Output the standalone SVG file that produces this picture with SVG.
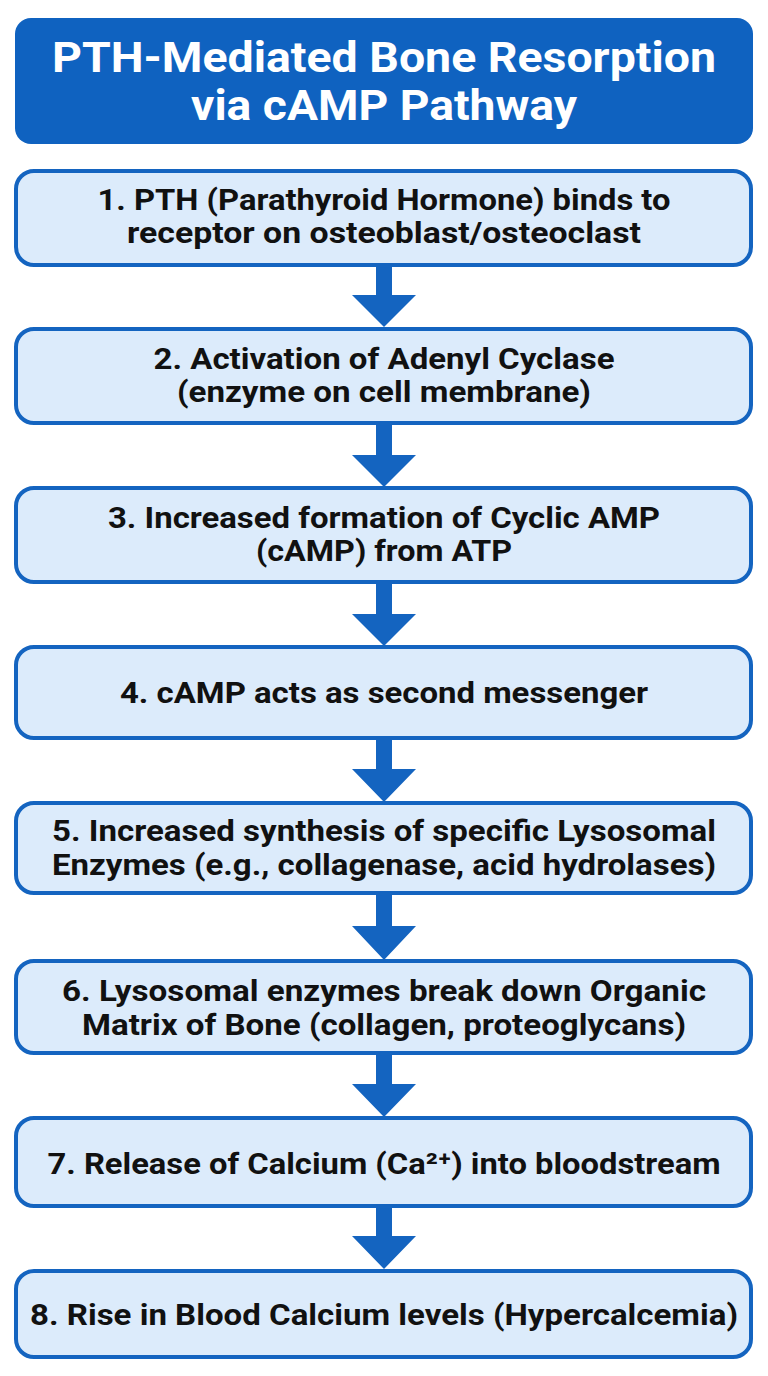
<svg xmlns="http://www.w3.org/2000/svg" width="768" height="1376" viewBox="0 0 768 1376">
<defs>
<style>
.box{fill:#dcebfb;stroke:#1464c0;stroke-width:4}
.t{font-family:Roboto,"Liberation Sans",sans-serif;font-weight:bold;font-size:30px;fill:#111;text-anchor:middle}
.h{font-family:Roboto,"Liberation Sans",sans-serif;font-weight:bold;font-size:43px;fill:#fff;text-anchor:middle}
.arr{fill:#1464c0}
</style>
</defs>
<rect width="768" height="1376" fill="#fff"/>
<g id="title">
<rect x="15" y="18" width="738" height="126" rx="16" fill="#0f62c0"/>
<text class="h" x="384" y="72" textLength="664" lengthAdjust="spacingAndGlyphs">PTH-Mediated Bone Resorption</text>
<text class="h" x="384" y="120" textLength="386" lengthAdjust="spacingAndGlyphs">via cAMP Pathway</text>
</g>
<g id="connectors">
<path class="arr" d="M376 265h16v30h24l-32 32l-32-32h24z"/>
<path class="arr" d="M376 423h16v32h24l-32 32l-32-32h24z"/>
<path class="arr" d="M376 582h16v32h24l-32 32l-32-32h24z"/>
<path class="arr" d="M376 738h16v31h24l-32 33l-32-33h24z"/>
<path class="arr" d="M376 893h16v33h24l-32 34l-32-34h24z"/>
<path class="arr" d="M376 1053h16v31h24l-32 33l-32-33h24z"/>
<path class="arr" d="M376 1206h16v30h24l-32 33l-32-33h24z"/>
</g>
<g id="step1">
<rect class="box" x="16" y="171" width="735" height="94" rx="18"/>
<text class="t" x="384" y="210" textLength="573" lengthAdjust="spacingAndGlyphs">1. PTH (Parathyroid Hormone) binds to</text>
<text class="t" x="384" y="243" textLength="514" lengthAdjust="spacingAndGlyphs">receptor on osteoblast/osteoclast</text>
</g>
<g id="step2">
<rect class="box" x="16" y="329" width="735" height="94" rx="18"/>
<text class="t" x="384" y="369" textLength="461" lengthAdjust="spacingAndGlyphs">2. Activation of Adenyl Cyclase</text>
<text class="t" x="384" y="402" textLength="414" lengthAdjust="spacingAndGlyphs">(enzyme on cell membrane)</text>
</g>
<g id="step3">
<rect class="box" x="16" y="488" width="735" height="94" rx="18"/>
<text class="t" x="384" y="528" textLength="552" lengthAdjust="spacingAndGlyphs">3. Increased formation of Cyclic AMP</text>
<text class="t" x="384" y="561" textLength="256" lengthAdjust="spacingAndGlyphs">(cAMP) from ATP</text>
</g>
<g id="step4">
<rect class="box" x="16" y="647" width="735" height="91" rx="18"/>
<text class="t" x="384" y="703" textLength="528" lengthAdjust="spacingAndGlyphs">4. cAMP acts as second messenger</text>
</g>
<g id="step5">
<rect class="box" x="16" y="803" width="735" height="90" rx="18"/>
<text class="t" x="384" y="841" textLength="664" lengthAdjust="spacingAndGlyphs">5. Increased synthesis of specific Lysosomal</text>
<text class="t" x="384" y="875" textLength="664" lengthAdjust="spacingAndGlyphs">Enzymes (e.g., collagenase, acid hydrolases)</text>
</g>
<g id="step6">
<rect class="box" x="16" y="961" width="735" height="92" rx="18"/>
<text class="t" x="384" y="1001" textLength="644" lengthAdjust="spacingAndGlyphs">6. Lysosomal enzymes break down Organic</text>
<text class="t" x="384" y="1035" textLength="604" lengthAdjust="spacingAndGlyphs">Matrix of Bone (collagen, proteoglycans)</text>
</g>
<g id="step7">
<rect class="box" x="16" y="1118" width="735" height="88" rx="18"/>
<text class="t" x="384" y="1174" textLength="673" lengthAdjust="spacingAndGlyphs">7. Release of Calcium (Ca²⁺) into bloodstream</text>
</g>
<g id="step8">
<rect class="box" x="16" y="1271" width="735" height="86" rx="18"/>
<text class="t" x="384" y="1325" textLength="708" lengthAdjust="spacingAndGlyphs">8. Rise in Blood Calcium levels (Hypercalcemia)</text>
</g>
</svg>
